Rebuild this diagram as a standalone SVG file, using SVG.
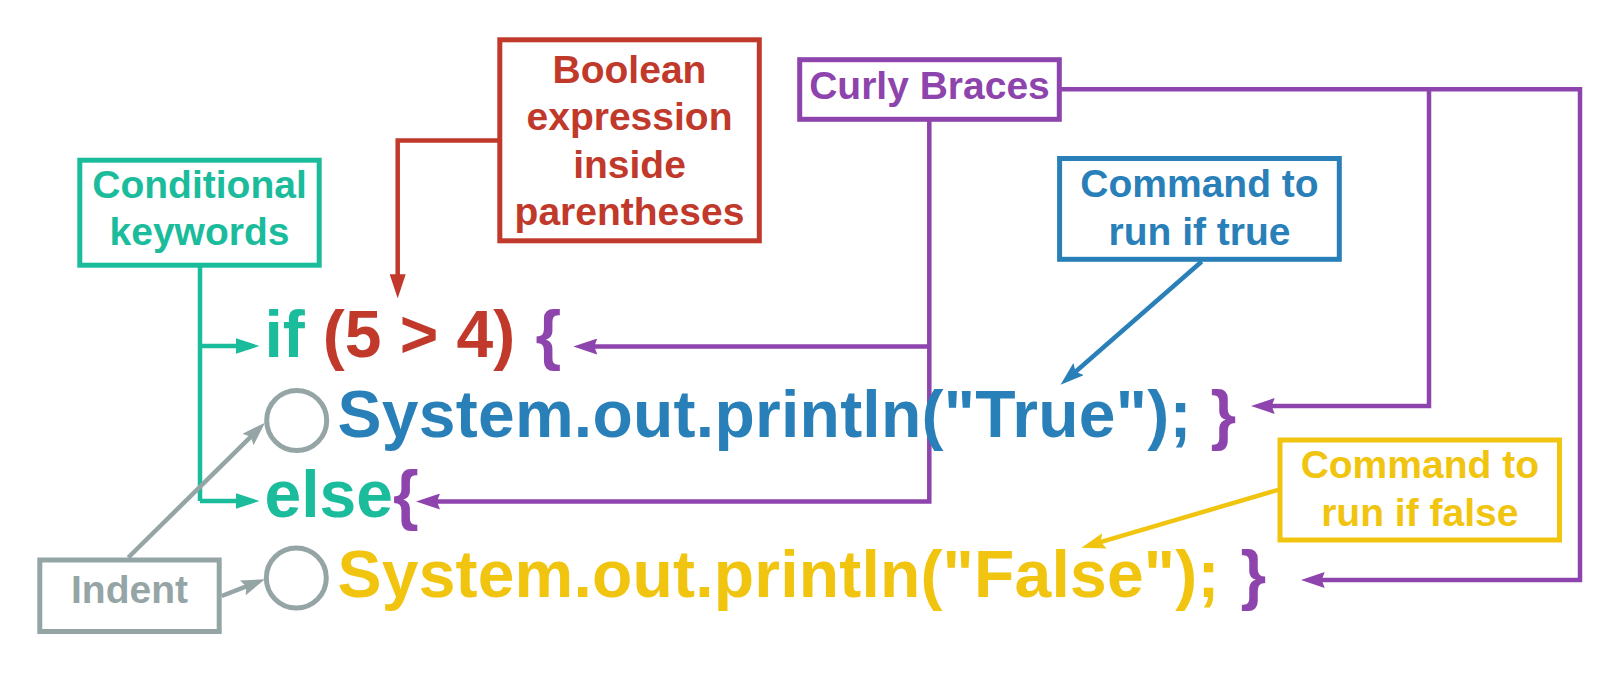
<svg xmlns="http://www.w3.org/2000/svg" width="1620" height="673" viewBox="0 0 1620 673">
<style>
text{font-family:"Liberation Sans",Arial,sans-serif;font-weight:bold}
.lbl{font-size:39px;text-anchor:middle}
.code{font-size:66px}
.box{fill:#fff;stroke-width:5}
.ln{fill:none;stroke-width:4.5;stroke-linejoin:miter}
.teal{fill:#1ABC9C}.red{fill:#C0392B}.pur{fill:#8E44AD}.blue{fill:#2980B9}.yel{fill:#F1C40F}.gray{fill:#95A5A6}
</style>
<defs>
<marker id="aTeal" viewBox="0 0 24 16" refX="6" refY="8" markerWidth="24" markerHeight="16" markerUnits="userSpaceOnUse" orient="auto"><path d="M0,0 L24,8 L0,16 Z" fill="#1ABC9C"/></marker>
<marker id="aRed" viewBox="0 0 24 16" refX="6" refY="8" markerWidth="24" markerHeight="16" markerUnits="userSpaceOnUse" orient="auto"><path d="M0,0 L24,8 L0,16 Z" fill="#C0392B"/></marker>
<marker id="aPur" viewBox="0 0 24 16" refX="6" refY="8" markerWidth="24" markerHeight="16" markerUnits="userSpaceOnUse" orient="auto"><path d="M0,0 L24,8 L0,16 L3,8 Z" fill="#8E44AD"/></marker>
<marker id="aBlue" viewBox="0 0 24 16" refX="6" refY="8" markerWidth="24" markerHeight="16" markerUnits="userSpaceOnUse" orient="auto"><path d="M0,0 L24,8 L0,16 L4,8 Z" fill="#2980B9"/></marker>
<marker id="aYel" viewBox="0 0 24 16" refX="6" refY="8" markerWidth="24" markerHeight="16" markerUnits="userSpaceOnUse" orient="auto"><path d="M0,0 L24,8 L0,16 L4,8 Z" fill="#F1C40F"/></marker>
<marker id="aGray" viewBox="0 0 24 16" refX="6" refY="8" markerWidth="24" markerHeight="16" markerUnits="userSpaceOnUse" orient="auto"><path d="M0,0 L24,8 L0,16 L4,8 Z" fill="#95A5A6"/></marker>
</defs>
<rect width="1620" height="673" fill="#fff"/>

<g id="connectors">
<path class="ln" stroke="#1ABC9C" d="M200,267 V501"/>
<path class="ln" stroke="#1ABC9C" d="M200,346 H241.5" marker-end="url(#aTeal)"/>
<path class="ln" stroke="#1ABC9C" d="M200,501 H241.5" marker-end="url(#aTeal)"/>
<path class="ln" stroke="#C0392B" d="M499.5,140.5 H397.7 V280.3" marker-end="url(#aRed)"/>
<path class="ln" stroke="#8E44AD" d="M929.3,121 V501.5 H434" marker-end="url(#aPur)"/>
<path class="ln" stroke="#8E44AD" d="M929.3,346.5 H591.3" marker-end="url(#aPur)"/>
<path class="ln" stroke="#8E44AD" d="M1061,89.3 H1580 V580 H1318.7" marker-end="url(#aPur)"/>
<path class="ln" stroke="#8E44AD" d="M1429,89.3 V406 H1268.7" marker-end="url(#aPur)"/>
<path class="ln" stroke="#2980B9" d="M1201.7,261.5 L1074.1,373" marker-end="url(#aBlue)"/>
<path class="ln" stroke="#F1C40F" d="M1280,489.3 L1098.7,542.6" marker-end="url(#aYel)"/>
<path class="ln" stroke="#95A5A6" d="M128.3,557.5 L252.2,435.3" marker-end="url(#aGray)"/>
<path class="ln" stroke="#95A5A6" d="M221.7,596 L248.3,585.7" marker-end="url(#aGray)"/>
</g>

<g id="node-conditional">
<rect class="box" stroke="#1ABC9C" x="79.8" y="160.2" width="239.4" height="105"/>
<text class="lbl teal" x="199.5" y="198.3">Conditional</text>
<text class="lbl teal" x="199.5" y="245">keywords</text>
</g>

<g id="node-boolean">
<rect class="box" stroke="#C0392B" x="499.8" y="39.8" width="259.5" height="201"/>
<text class="lbl red" x="629.5" y="82.7">Boolean</text>
<text class="lbl red" x="629.5" y="130">expression</text>
<text class="lbl red" x="629.5" y="178.3">inside</text>
<text class="lbl red" x="629.5" y="225">parentheses</text>
</g>

<g id="node-curly">
<rect class="box" stroke="#8E44AD" x="799.7" y="59.7" width="259.6" height="59.6"/>
<text class="lbl pur" x="929.5" y="99.3">Curly Braces</text>
</g>

<g id="node-true-cmd">
<rect class="box" stroke="#2980B9" x="1059.6" y="158.5" width="279.7" height="100.8"/>
<text class="lbl blue" x="1199.5" y="197.3">Command to</text>
<text class="lbl blue" x="1199.5" y="244.5">run if true</text>
</g>

<g id="node-false-cmd">
<rect class="box" stroke="#F1C40F" x="1280" y="440" width="279.5" height="100"/>
<text class="lbl yel" x="1419.8" y="477.5">Command to</text>
<text class="lbl yel" x="1419.8" y="526">run if false</text>
</g>

<g id="node-indent">
<rect class="box" stroke="#95A5A6" x="39.8" y="560" width="179.4" height="71.5"/>
<text class="lbl gray" x="129.5" y="602.7">Indent</text>
</g>

<g id="node-indent-1"><circle cx="296.7" cy="420.5" r="30" fill="none" stroke="#95A5A6" stroke-width="5"/></g>
<g id="node-indent-2"><circle cx="296.3" cy="578" r="30" fill="none" stroke="#95A5A6" stroke-width="5"/></g>

<g id="node-if-line">
<text class="code" y="356.7"><tspan class="teal" x="264.5">if</tspan><tspan class="red" x="322.7">(5 &gt; 4)</tspan><tspan class="pur" x="535.5">{</tspan></text>
</g>
<g id="node-true-line">
<text class="code" y="436.7"><tspan class="blue" x="337.5" textLength="854" lengthAdjust="spacing">System.out.println("True");</tspan><tspan class="pur" x="1210.5">}</tspan></text>
</g>
<g id="node-else-line">
<text class="code" y="516.5"><tspan class="teal" x="264.5">else</tspan><tspan class="pur" x="393">{</tspan></text>
</g>
<g id="node-false-line">
<text class="code" y="596.5"><tspan class="yel" x="337.5" textLength="882" lengthAdjust="spacing">System.out.println("False");</tspan><tspan class="pur" x="1240.5">}</tspan></text>
</g>
</svg>
